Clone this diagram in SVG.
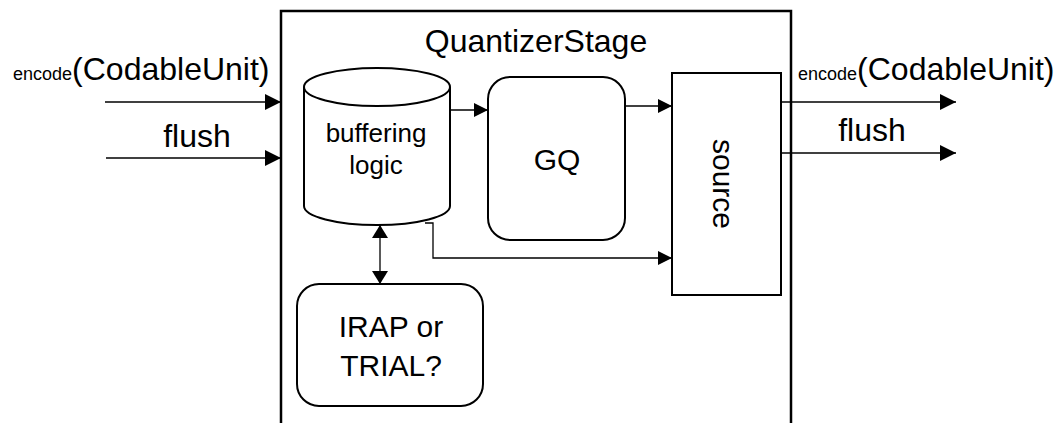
<svg xmlns="http://www.w3.org/2000/svg" width="1061" height="423" viewBox="0 0 1061 423">
<style>
text{font-family:"Liberation Sans",Arial,sans-serif;fill:#000}
.box{fill:#fff;stroke:#000;stroke-width:2}
.ln{fill:none;stroke:#000;stroke-width:1.3}
.big{font-size:30px}
.t32{font-size:32px}
.sm{font-size:18px}
</style>
<defs>
<marker id="ah" markerUnits="userSpaceOnUse" markerWidth="16" markerHeight="16" viewBox="0 0 16 16" refX="16" refY="8" orient="auto"><path d="M0,0 L16,8 L0,16 Z" fill="#000"/></marker>
<marker id="ai" markerUnits="userSpaceOnUse" markerWidth="14" markerHeight="14" viewBox="0 0 14 14" refX="14" refY="7" orient="auto"><path d="M0,0 L14,7 L0,14 Z" fill="#000"/></marker>
<marker id="ab" markerUnits="userSpaceOnUse" markerWidth="13" markerHeight="16" viewBox="0 0 13 16" refX="13" refY="8" orient="auto-start-reverse"><path d="M0,0 L13,8 L0,16 Z" fill="#000"/></marker>
</defs>
<g id="stage">
<rect x="281" y="11" width="510" height="420" fill="#fff" stroke="#000" stroke-width="2.5"/>
<text class="t32" x="536" y="52" text-anchor="middle">QuantizerStage</text>
</g>
<g id="buffering">
<path class="box" d="M304,87 L304,206 A73,19 0 0 0 450,206 L450,87 A73,19 0 0 0 304,87 Z"/>
<path class="box" fill="none" d="M304,87 A73,19 0 0 0 450,87"/>
<text x="376" y="142" font-size="26" text-anchor="middle">buffering</text>
<text x="376" y="174" font-size="26" text-anchor="middle">logic</text>
</g>
<g id="gq">
<rect class="box" x="488" y="77" width="137" height="163" rx="22"/>
<text class="big" x="557" y="170" text-anchor="middle">GQ</text>
</g>
<g id="source">
<rect class="box" x="672" y="73" width="109" height="222"/>
<text class="big" transform="translate(713,184) rotate(90)" text-anchor="middle">source</text>
</g>
<g id="irap">
<rect class="box" x="297" y="284" width="186" height="122" rx="22"/>
<text class="big" x="391" y="337" text-anchor="middle">IRAP or</text>
<text class="big" x="391" y="376" text-anchor="middle">TRIAL?</text>
</g>
<g id="labels">
<text x="13" y="80"><tspan class="sm">encode</tspan><tspan class="t32">(CodableUnit)</tspan></text>
<text class="t32" x="197" y="147" text-anchor="middle">flush</text>
<text x="798" y="80"><tspan class="sm">encode</tspan><tspan class="t32">(CodableUnit)</tspan></text>
<text class="t32" x="872" y="141" text-anchor="middle">flush</text>
</g>
<g id="connectors">
<line class="ln" x1="105" y1="102" x2="281" y2="102" marker-end="url(#ah)"/>
<line class="ln" x1="106" y1="158" x2="281" y2="158" marker-end="url(#ah)"/>
<line class="ln" x1="781" y1="102" x2="956" y2="102" marker-end="url(#ah)"/>
<line class="ln" x1="781" y1="153" x2="956" y2="153" marker-end="url(#ah)"/>
<line class="ln" x1="450" y1="110" x2="488" y2="110" marker-end="url(#ai)"/>
<line class="ln" x1="625" y1="106" x2="672" y2="106" marker-end="url(#ai)"/>
<path class="ln" d="M425,223 L433,223 L433,258 L672,258" marker-end="url(#ai)"/>
<line class="ln" x1="380" y1="225" x2="380" y2="284" marker-start="url(#ab)" marker-end="url(#ab)"/>
</g>
</svg>
